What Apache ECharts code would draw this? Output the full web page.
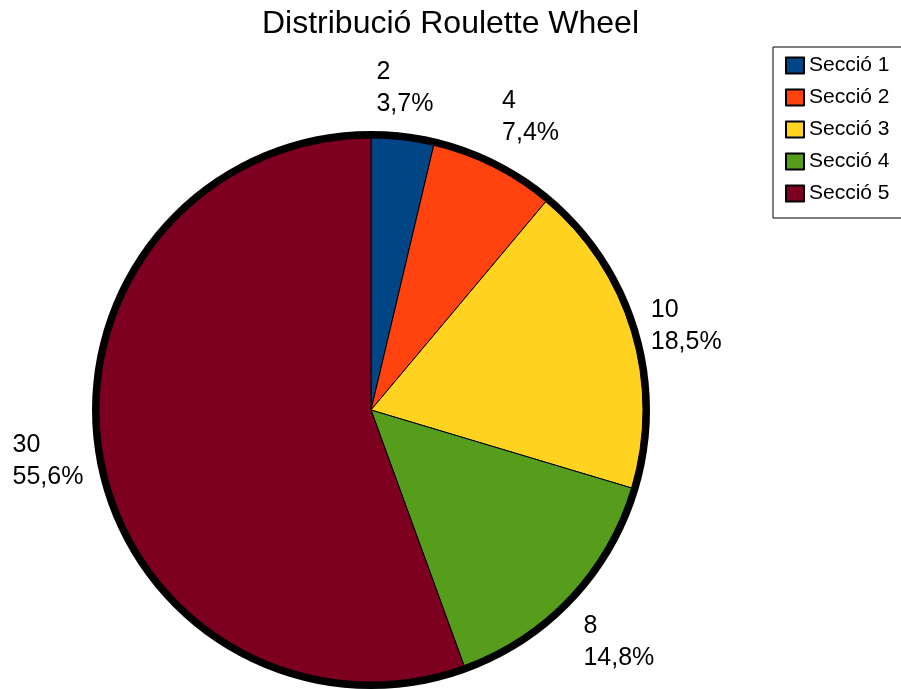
<!DOCTYPE html>
<html>
<head>
<meta charset="utf-8">
<title>Distribució Roulette Wheel</title>
<script src="https://cdn.jsdelivr.net/npm/echarts@6/dist/echarts.min.js"></script>
<style>
  html, body { margin: 0; padding: 0; background: #ffffff; }
  #chart { width: 901px; height: 689px; }
</style>
</head>
<body>
<div id="chart"></div>
<script>
// Roulette wheel sections and their weights
const sections = ['Secció 1', 'Secció 2', 'Secció 3', 'Secció 4', 'Secció 5'];
const weights = [2, 4, 10, 8, 30];
const sectionColors = ['#004586', '#ff420e', '#ffd320', '#579d1c', '#7e0021'];

const FONT = "'Liberation Sans', Arial, sans-serif";
const CX = 371, CY = 410;          // pie centre in px
const R_OUTER = 279;               // black rim
const R_PIE = 272;                 // coloured sectors
const R_LABEL = 292;               // anchor radius of the value labels

const total = weights.reduce((a, b) => a + b, 0);
const pct = v => (v / total * 100).toFixed(1).replace('.', ',') + '%';

// mid angle of each sector (degrees, maths orientation), clockwise from 12 o'clock
const midAngles = [];
let acc = 0;
weights.forEach(v => {
  midAngles.push(90 - 360 * (acc + v / 2) / total);
  acc += v;
});

const chart = echarts.init(document.getElementById('chart'), null, { renderer: 'canvas' });

chart.setOption({
  animation: false,
  backgroundColor: '#ffffff',
  textStyle: { fontFamily: FONT },
  title: {
    text: 'Distribució Roulette Wheel',
    left: 'center',
    top: 8,
    padding: 0,
    textStyle: { fontFamily: FONT, fontSize: 32, fontWeight: 'normal', color: '#000' }
  },
  legend: {
    data: sections,
    orient: 'vertical',
    left: 773,
    top: 47,
    padding: [8, 12, 14, 12],
    borderColor: '#000',
    borderWidth: 1,
    itemWidth: 18,
    itemHeight: 16,
    itemGap: 11,
    icon: 'rect',
    selectedMode: false,
    textStyle: { fontFamily: FONT, fontSize: 21, lineHeight: 20, color: '#000' }
  },
  series: [
    {
      // thick black rim behind the wheel
      type: 'pie',
      silent: true,
      center: [CX, CY],
      radius: R_OUTER,
      startAngle: 90,
      label: { show: false },
      labelLine: { show: false },
      emphasis: { disabled: true },
      itemStyle: { color: '#000', borderWidth: 0 },
      data: [{ value: 1, name: 'rim' }],
      z: 1
    },
    {
      type: 'pie',
      center: [CX, CY],
      radius: R_PIE,
      startAngle: 90,
      clockwise: true,
      avoidLabelOverlap: false,
      emphasis: { disabled: true },
      itemStyle: { borderColor: '#000', borderWidth: 1 },
      labelLine: { show: false },
      label: {
        show: true,
        position: 'outside',
        fontFamily: FONT,
        fontSize: 25,
        lineHeight: 32,
        color: '#000',
        align: 'left',
        formatter: p => p.value + '\n' + pct(p.value)
      },
      // place each label block just outside its sector; lines stay left-aligned
      labelLayout: function (params) {
        const a = midAngles[params.dataIndex] * Math.PI / 180;
        const c = Math.cos(a), s = Math.sin(a);
        const w = params.labelRect.width;
        let x = CX + R_LABEL * c;
        if (c < -0.25) x -= w;
        else if (c <= 0.25) x -= w / 2;
        return {
          x: x,
          y: CY - R_LABEL * s,
          align: 'left',
          verticalAlign: s > 0.5 ? 'bottom' : (s < -0.5 ? 'top' : 'middle')
        };
      },
      data: sections.map((name, i) => ({
        name: name,
        value: weights[i],
        itemStyle: { color: sectionColors[i] }
      })),
      z: 2
    }
  ]
});
</script>
</body>
</html>
